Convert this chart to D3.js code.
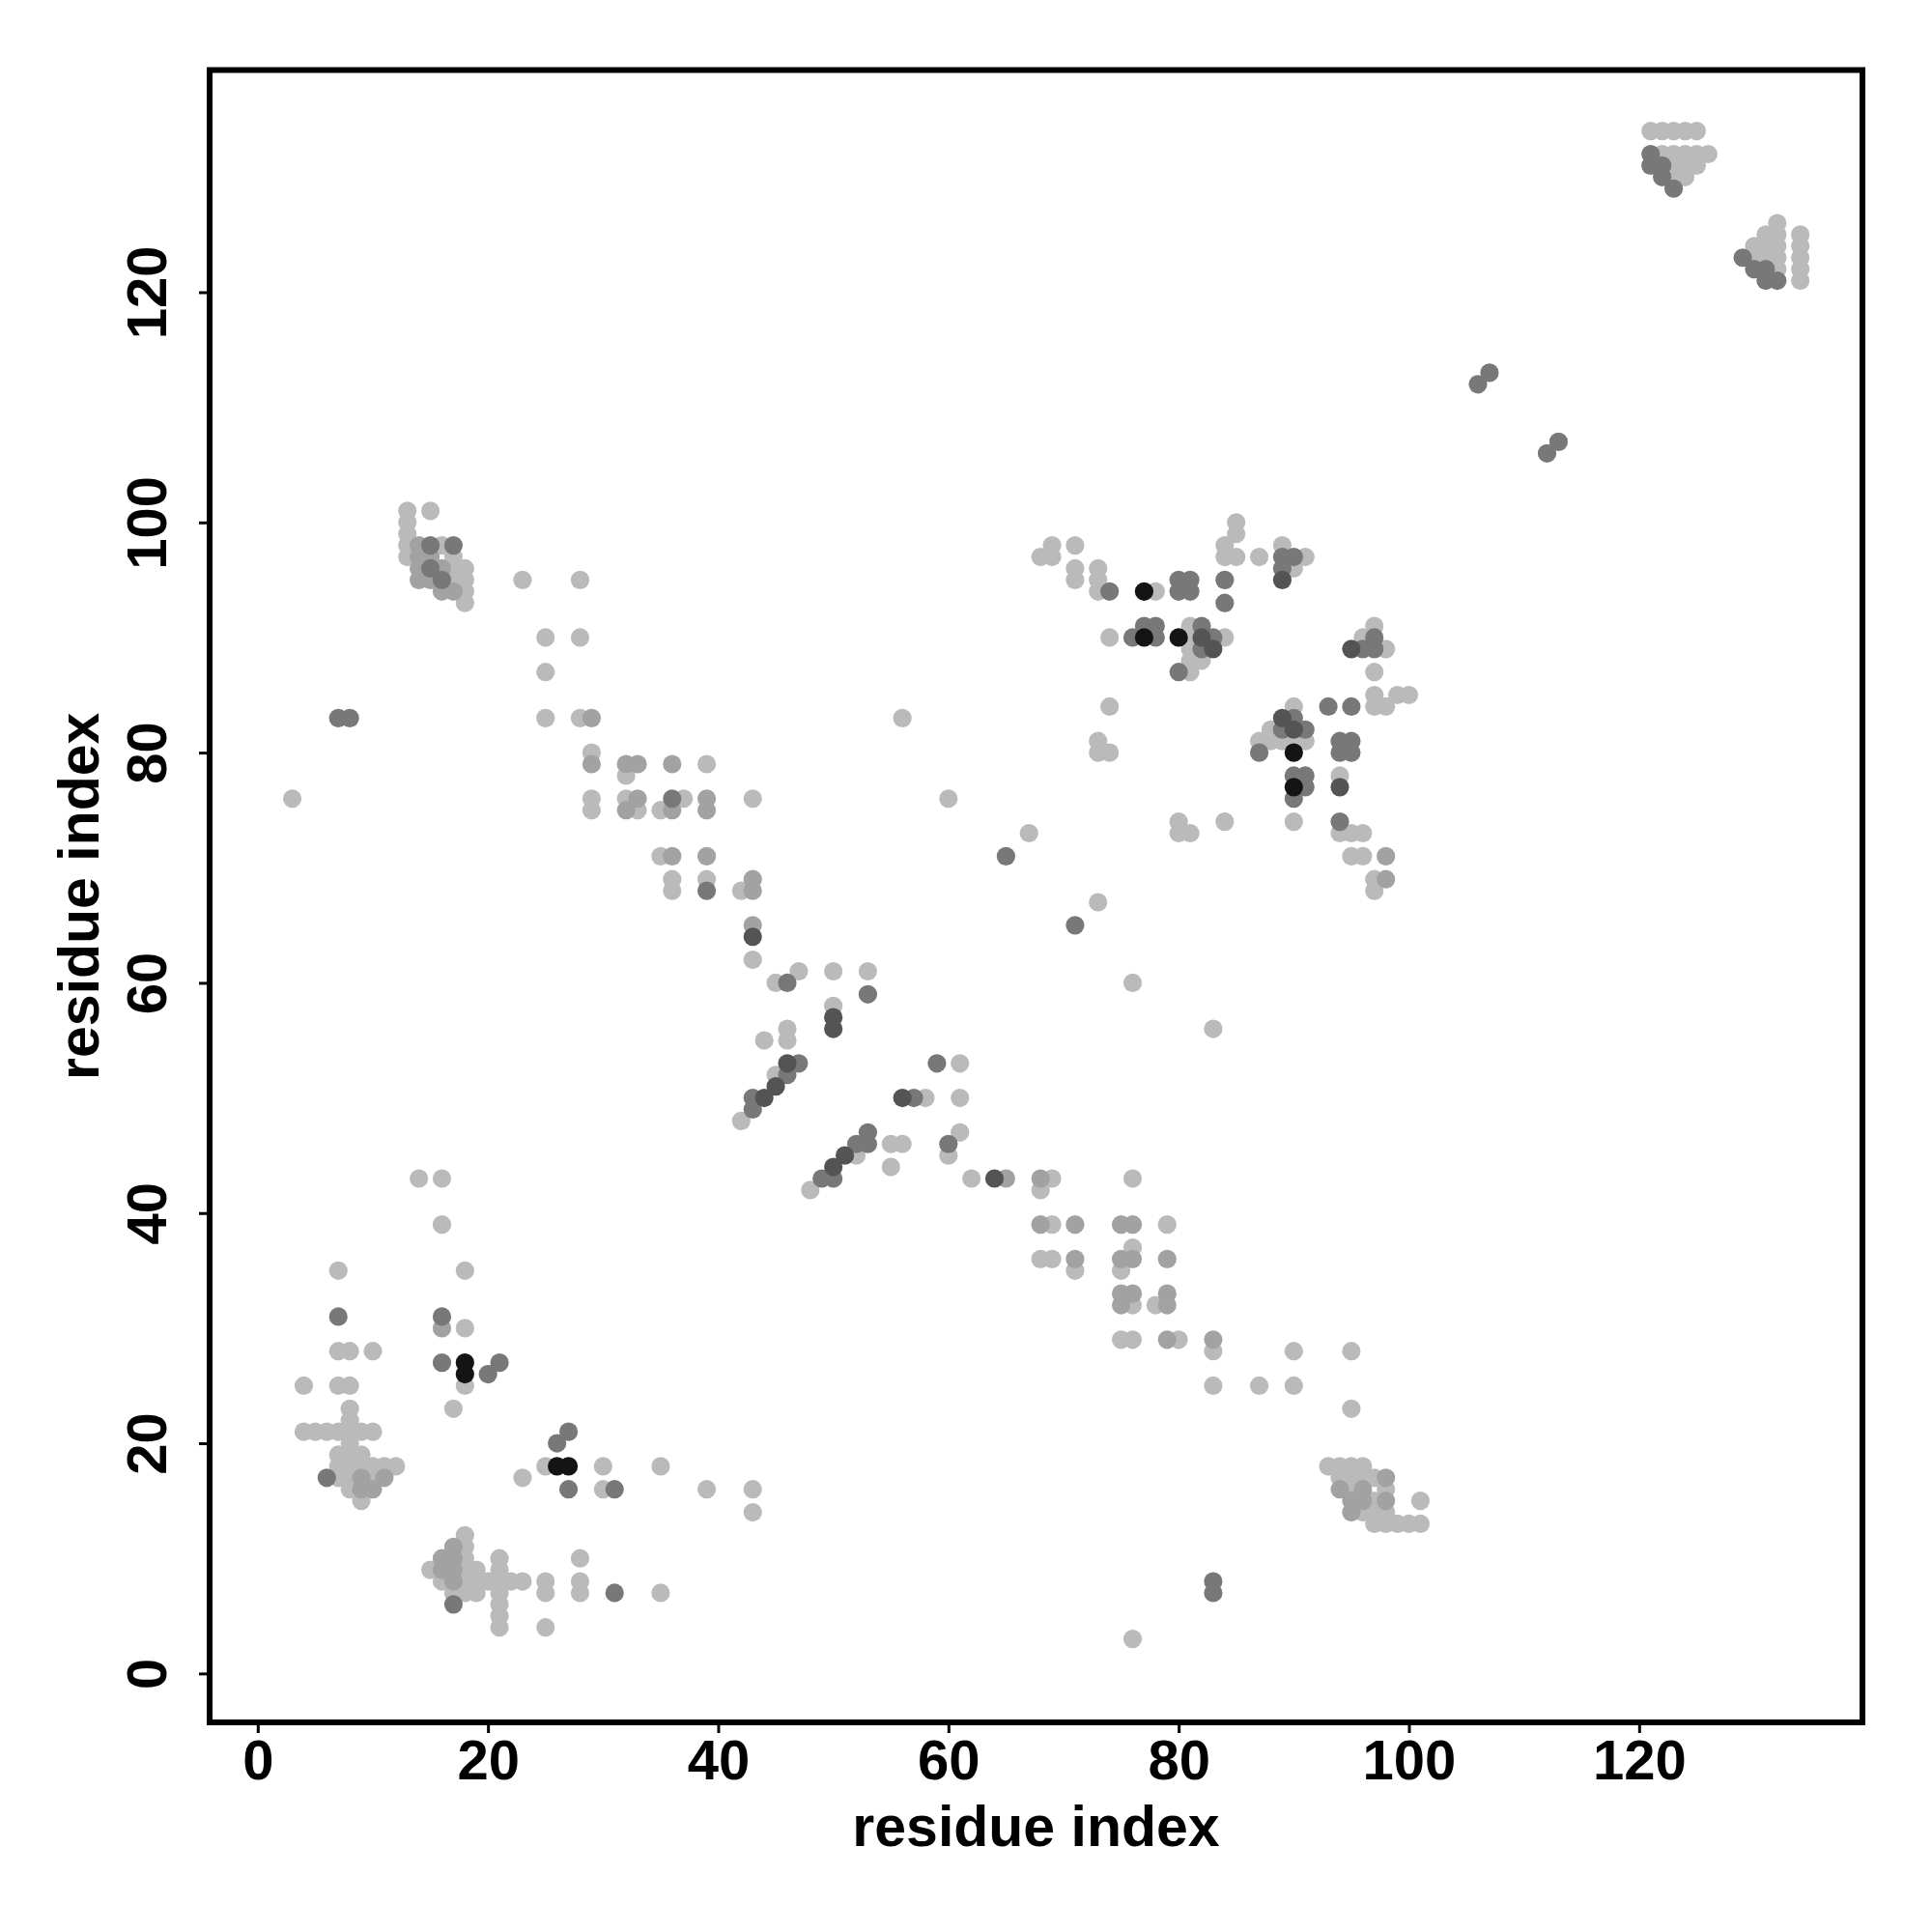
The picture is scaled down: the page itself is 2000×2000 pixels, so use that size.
<!DOCTYPE html>
<head>
  <meta charset="utf-8">
  <script src="https://d3js.org/d3.v7.min.js"></script>
  <style>
    body { margin:0; background:#fff; }
    text { font-family: "Liberation Sans", Arial, Helvetica, sans-serif; font-weight: bold; }
  </style>
</head>
<body>
<script>
    // contacts as [residue i, residue j, shade level 1..5]
    var lowerLeft = [
      [14,43,1],[16,43,1],[16,39,1],[7,35,1],[18,35,1],
      [7,31,3],[16,31,3],[16,30,2],[18,30,1],
      [7,28,1],[8,28,1],[10,28,1],
      [16,27,3],[18,27,5],[21,27,3],[18,26,5],[20,26,3],
      [4,25,1],[7,25,1],[8,25,1],[18,25,1],
      [8,23,1],[17,23,1],[8,22,1],
      [4,21,1],[5,21,1],[6,21,1],[7,21,1],[8,21,1],[9,21,1],[10,21,1],
      [8,20,1],[7,19,1],[8,19,1],[9,19,1],
      [7,18,1],[8,18,1],[9,18,1],[10,18,1],[11,18,1],[12,18,1],
      [6,17,3],[7,17,1],[8,17,1],[9,17,2],[10,17,1],[11,17,2],
      [8,16,1],[9,16,2],[10,16,2],[9,15,1],
      [27,21,3],[26,20,3],[23,17,1],
      [25,18,1],[26,18,5],[27,18,5],[30,18,1],[35,18,1],
      [27,16,3],[30,16,1],[31,16,3],[39,16,1],[43,16,1],[43,14,1]
    ];

    var lowerCluster = [
      [18,12,1],[17,11,2],[18,11,1],
      [16,10,2],[17,10,2],[18,10,1],[21,10,1],[28,10,1],
      [15,9,1],[16,9,2],[17,9,2],[18,9,1],[19,9,1],[21,9,1],
      [16,8,1],[17,8,2],[18,8,1],[19,8,1],[20,8,1],[21,8,1],[22,8,1],[23,8,1],[25,8,1],[28,8,1],
      [17,7,1],[18,7,1],[19,7,1],[21,7,1],[25,7,1],[28,7,1],[31,7,3],[35,7,1],
      [17,6,3],[21,6,1],[21,5,1],[21,4,1],[25,4,1]
    ];

    var upperLeft = [
      [13,101,1],[15,101,1],[13,100,1],[13,99,1],
      [13,98,1],[14,98,2],[15,98,3],[16,98,1],[17,98,3],
      [13,97,1],[14,97,2],[15,97,2],[17,97,1],
      [14,96,2],[15,96,3],[16,96,2],[17,96,1],[18,96,1],
      [14,95,2],[15,95,2],[16,95,3],[17,95,1],[18,95,1],
      [16,94,2],[17,94,2],[18,94,1],[18,93,1],
      [23,95,1],[28,95,1],[25,90,1],[28,90,1],[25,87,1],
      [25,83,1],[28,83,1],[29,83,2],[7,83,3],[8,83,3],[3,76,1],
      [29,80,1],[29,79,2],[32,79,2],[33,79,2],[32,78,1],[36,79,2],[39,79,1],
      [29,76,1],[29,75,1],[32,76,1],[33,76,2],[32,75,2],[33,75,1],[35,75,1],
      [36,76,3],[36,75,2],[37,76,1],[39,76,2],[39,75,2],[43,76,1],
      [35,71,1],[36,71,2],[39,71,2],[36,69,1],[36,68,1],[39,69,1],[39,68,3],
      [42,68,1],[43,69,2],[43,68,2],[43,65,2],[43,64,4],[43,62,1]
    ];

    var middleBand = [
      [45,60,1],[46,60,3],[47,61,1],[50,61,1],[53,61,1],[53,59,3],
      [50,58,1],[50,57,4],[50,56,4],[46,56,1],[46,55,1],[44,55,1],
      [46,53,4],[47,53,3],[45,52,1],[46,52,3],[45,51,4],[44,50,4],[43,50,3],[43,49,3],[42,48,1],
      [59,53,3],[61,53,1],[56,50,4],[57,50,3],[58,50,1],[61,50,1],
      [53,47,3],[53,46,3],[52,46,3],[51,45,4],[52,45,1],[50,44,4],[49,43,3],[50,43,3],[48,42,1],
      [55,46,1],[56,46,1],[55,44,1],[61,47,1],[60,46,3],[60,45,1],
      [62,43,1],[64,43,4],[65,43,2],[68,43,2],[69,43,1],[68,42,1],[76,43,1],
      [68,39,2],[69,39,1],[71,39,2],[75,39,2],[76,39,2],[79,39,1],
      [76,37,1],[75,36,2],[76,36,2],[75,35,1],[79,36,2],
      [68,36,1],[69,36,1],[71,36,2],[71,35,1],
      [75,33,2],[76,33,2],[75,32,2],[76,32,1],[78,32,1],[79,33,2],[79,32,2],
      [75,29,1],[76,29,1],[79,29,2],[80,29,1],
      [83,29,2],[83,28,1],[90,28,1],[95,28,1],[83,25,1],[87,25,1],[90,25,1],[95,23,1],
      [83,8,3],[83,7,3],[76,3,1]
    ];

    var lowerRight = [
      [93,18,1],[94,18,1],[95,18,1],[96,18,1],
      [94,17,1],[95,17,1],[96,17,1],[97,17,1],[98,17,2],
      [94,16,2],[95,16,1],[96,16,2],[98,16,1],
      [95,15,2],[96,15,2],[97,15,1],[98,15,2],[101,15,1],
      [95,14,2],[96,14,1],[97,14,1],[98,14,1],
      [97,13,1],[98,13,1],[99,13,1],[100,13,1],[101,13,1]
    ];

    var upperMiddle = [
      [69,98,1],[71,98,1],[68,97,1],[69,97,1],[71,96,1],[71,95,1],
      [73,96,1],[73,95,1],[73,94,1],[74,94,3],[77,94,5],[78,94,1],
      [80,95,3],[80,94,3],[81,95,3],[81,94,3],
      [74,90,1],[76,90,3],[77,90,5],[77,91,3],[78,91,3],[78,90,3],[80,90,5],
      [80,87,3],[74,84,1],[73,81,1],[73,80,1],[74,80,1],
      [56,83,1],[60,76,1],[67,73,1],[65,71,3],[73,67,1],[71,65,3],[76,60,1],
      [80,74,1],[80,73,1],[81,73,1],[84,74,1],[83,56,1],
      [85,100,1],[85,99,1],[84,98,1],[84,97,1],[85,97,1],[87,97,1],
      [89,98,1],[89,97,3],[89,96,3],[89,95,4],[90,97,3],[90,96,1],[91,97,1],
      [84,95,3],[84,93,3],
      [81,91,1],[82,91,3],[81,90,1],[82,90,4],[83,90,3],[84,90,1],
      [83,89,4],[82,89,3],[81,89,1],[81,88,1],[82,88,1],[81,87,1]
    ];

    var upperRight = [
      [97,91,1],[96,90,1],[97,90,3],[95,89,4],[96,89,3],[97,89,3],[98,89,1],[97,87,1],
      [97,85,1],[97,84,1],[98,84,1],[99,85,1],[100,85,1],
      [93,84,3],[95,84,3],[90,84,1],
      [89,83,4],[90,83,3],[89,82,3],[90,82,4],[91,82,3],[88,82,1],
      [87,81,1],[88,81,1],[89,81,1],[90,81,1],[91,81,1],[87,80,3],[90,80,5],
      [90,78,3],[91,78,3],[90,77,5],[91,77,3],[90,76,3],
      [94,81,3],[95,81,3],[94,80,3],[95,80,3],[94,78,1],[94,77,4],
      [90,74,1],[94,74,3],[94,73,1],[95,73,1],[96,73,1],[95,71,1],[96,71,1],[98,71,2],
      [97,69,1],[98,69,2],[97,68,1]
    ];

    var cTerminal = [
      [121,134,1],[122,134,1],[123,134,1],[124,134,1],[125,134,1],
      [121,132,3],[122,132,1],[123,132,1],[124,132,1],[125,132,1],[126,132,1],
      [121,131,3],[122,131,3],[123,131,1],[124,131,1],[125,131,1],
      [122,130,3],[123,130,1],[124,130,1],[123,129,3],
      [132,126,1],[131,125,1],[132,125,1],[134,125,1],
      [130,124,1],[131,124,1],[132,124,1],[134,124,1],
      [129,123,3],[130,123,1],[131,123,1],[132,123,1],[134,123,1],
      [130,122,3],[131,122,3],[132,122,1],[134,122,1],
      [131,121,3],[132,121,3],[134,121,1],
      [107,113,3],[106,112,3],[113,107,3],[112,106,3]
    ];

    var shades = ["#ffffff", "#bababa", "#a2a2a2", "#787878", "#545454", "#141414"];
    var xTicks = [0, 20, 40, 60, 80, 100, 120];
    var yTicks = [0, 20, 40, 60, 80, 100, 120];
    var axisTitle = "residue index";

    var box = {left: 217, right: 1928, top: 72.5, bottom: 1783};

    var svg = d3.select("body").append("svg")
        .attr("width", 2000)
        .attr("height", 2000);

    var x = d3.scaleLinear().domain([-4.18, 139.4]).range([box.left, box.right]);
    var y = d3.scaleLinear().domain([-4.25, 139.3]).range([box.bottom, box.top]);

    var contacts = [].concat(lowerLeft, lowerCluster, upperLeft, middleBand,
                             lowerRight, upperMiddle, upperRight, cTerminal);
    // darker points on top
    contacts.sort(function(a, b) { return a[2] - b[2]; });

    svg.append("g").selectAll("circle").data(contacts).enter()
      .append("circle")
        .attr("cx", function(d) { return x(d[0]); })
        .attr("cy", function(d) { return y(d[1]); })
        .attr("r", 9.6)
        .style("fill", function(d) { return shades[d[2]]; });

    // frame
    svg.append("rect")
        .attr("x", box.left)
        .attr("y", box.top)
        .attr("width", box.right - box.left)
        .attr("height", box.bottom - box.top)
        .attr("fill", "none")
        .attr("stroke", "black")
        .attr("stroke-width", 6);

    var xAxis = svg.append("g")
        .attr("transform", "translate(0," + box.bottom + ")")
        .call(d3.axisBottom(x).tickValues(xTicks).tickSize(11).tickFormat(d3.format("d")));
    xAxis.select(".domain").remove();
    xAxis.selectAll("line").attr("stroke-width", 3);
    xAxis.selectAll("text")
        .attr("y", 59)
        .attr("dy", null)
        .attr("fill", "black")
        .style("font-size", "58px");

    var yAxis = svg.append("g")
        .attr("transform", "translate(" + box.left + ",0)")
        .call(d3.axisLeft(y).tickValues(yTicks).tickSize(11).tickFormat(d3.format("d")));
    yAxis.select(".domain").remove();
    yAxis.selectAll("line").attr("stroke-width", 3);
    yAxis.selectAll("text")
        .attr("x", null)
        .attr("dy", null)
        .attr("text-anchor", "middle")
        .attr("fill", "black")
        .attr("transform", "translate(-45,0) rotate(-90)")
        .style("font-size", "58px");

    svg.append("text")
        .attr("x", (box.left + box.right) / 2)
        .attr("y", 1911)
        .attr("text-anchor", "middle")
        .style("font-size", "59px")
        .text(axisTitle);

    svg.append("text")
        .attr("transform", "translate(102," + (box.top + box.bottom) / 2 + ") rotate(-90)")
        .attr("text-anchor", "middle")
        .style("font-size", "59px")
        .text(axisTitle);
</script>
</body>
